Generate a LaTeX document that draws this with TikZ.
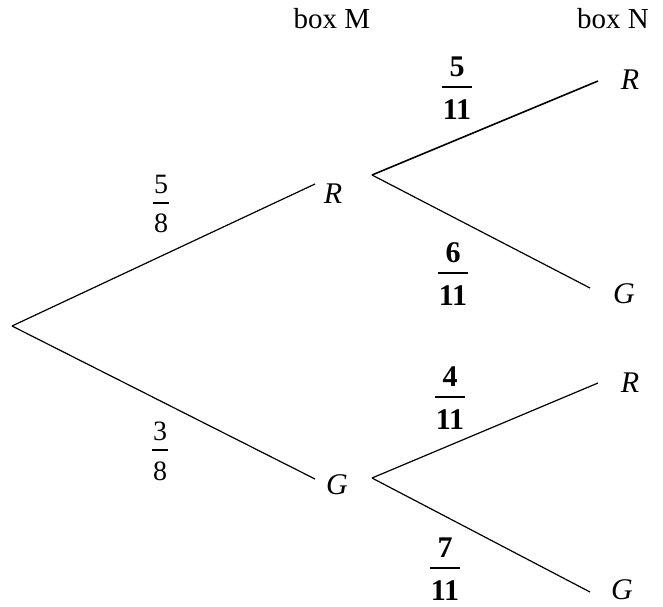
\documentclass[tikz,border=0pt]{standalone}
\usepackage{fontspec}
\setmainfont{Liberation Serif}
\newcommand\fr[3]{{\renewcommand\arraystretch{0}\setlength\arrayrulewidth{#3}%
  \begin{tabular}{@{\hspace{1pt}}c@{\hspace{1pt}}}\rule[-0.33em]{0pt}{0pt}#1\\\hline\rule{0pt}{1.05em}#2\end{tabular}}}
\begin{document}
\begin{tikzpicture}[x=1pt,y=-1pt,
  branch/.style={line width=1.2pt},
  lab/.style={font=\fontsize{30}{34}\selectfont\itshape, inner sep=0pt},
  prob/.style={font=\fontsize{28}{32}\selectfont, inner sep=0pt},
  bprob/.style={font=\fontsize{30}{34}\selectfont\bfseries, inner sep=0pt},
  head/.style={font=\fontsize{29}{33}\selectfont, inner sep=0pt}]
\useasboundingbox (0,0) rectangle (663,606);
% headers
\node[head] (hM) at (332,19) {box M};
\node[head] (hN) at (613,19) {box N};
% coordinates
\coordinate (root) at (12,326);
\coordinate (a1) at (315,184);
\coordinate (a2) at (315,479);
\coordinate (b0) at (372,175);
\coordinate (b1) at (598,81);
\coordinate (b2) at (590,288);
\coordinate (c0) at (372,478);
\coordinate (c1) at (598,383);
\coordinate (c2) at (590,592);
% labels
\node[lab] (R1) at (333,194) {R};
\node[lab] (G1) at (337,485) {G};
\node[lab] (RR) at (630,80) {R};
\node[lab] (RG) at (624,294) {G};
\node[lab] (GR) at (630,383) {R};
\node[lab] (GG) at (622,590) {G};
% branches
\draw[branch] (root) -- (a1);
\draw[branch] (root) -- (a2);
\draw[branch, line width=1.6pt] (b0) -- (b1);
\draw[branch] (b0) -- (b2);
\draw[branch] (c0) -- (c1);
\draw[branch] (c0) -- (c2);
% probabilities
\node[prob] (p1) at (161,204) {\fr{5}{8}{1.2pt}};
\node[prob] (p2) at (160,451) {\fr{3}{8}{1.2pt}};
\node[bprob] (q1) at (457,88) {\fr{5}{11}{1.6pt}};
\node[bprob] (q2) at (453,274) {\fr{6}{11}{1.6pt}};
\node[bprob] (q3) at (450,398) {\fr{4}{11}{1.6pt}};
\node[bprob] (q4) at (445,569) {\fr{7}{11}{1.6pt}};
\end{tikzpicture}
\end{document}
